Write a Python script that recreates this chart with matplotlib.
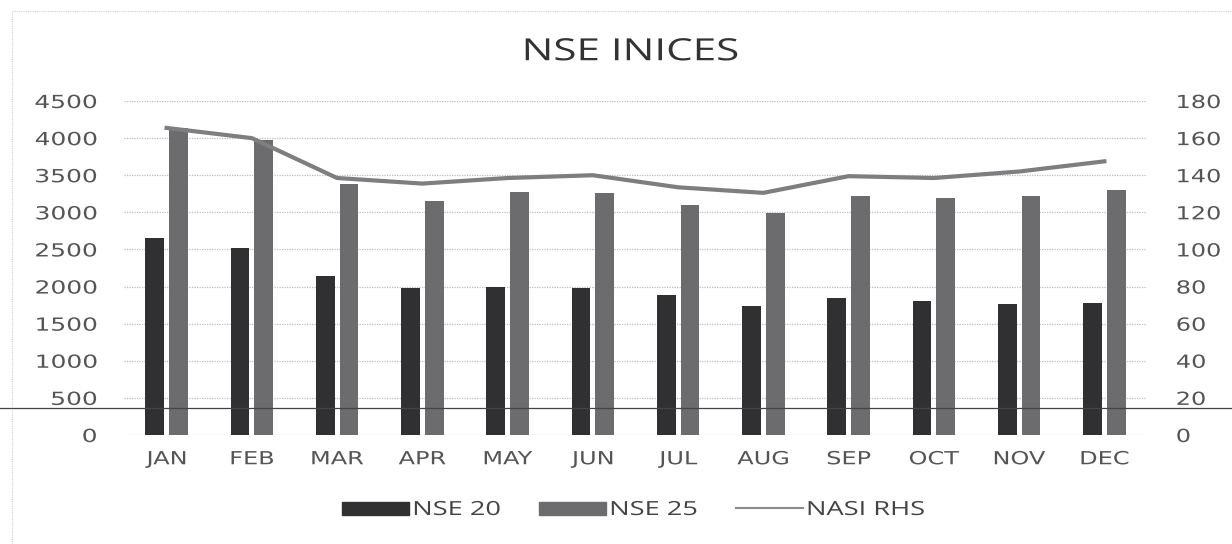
import numpy as np
import matplotlib
matplotlib.use('Agg')
from matplotlib import pyplot as plt
from matplotlib.lines import Line2D
from matplotlib.patches import Rectangle
from matplotlib.patheffects import AbstractPathEffect
from matplotlib.transforms import Affine2D

months = ['JAN', 'FEB', 'MAR', 'APR', 'MAY', 'JUN', 'JUL', 'AUG', 'SEP', 'OCT', 'NOV', 'DEC']
nse20 = [2650, 2520, 2140, 1980, 1990, 1980, 1890, 1740, 1840, 1810, 1760, 1785]
nse25 = [4140, 3975, 3385, 3150, 3275, 3260, 3100, 2990, 3220, 3195, 3220, 3300]
nasi = [165.5, 160, 138.5, 135.5, 138.5, 140, 133.5, 130.5, 139.5, 138.5, 142, 147.5]

left_ticks = list(range(0, 4501, 500))
right_ticks = list(range(0, 181, 20))


# the scanned chart has its text stretched sideways, widen glyphs to match
class Stretch(AbstractPathEffect):
    def __init__(self, sx, anchor):
        super().__init__()
        self.sx = sx
        self.anchor = anchor

    def draw_path(self, renderer, gc, tpath, affine, rgbFace=None):
        ext = tpath.get_extents(affine)
        cx = {'left': ext.x0, 'center': (ext.x0 + ext.x1) / 2, 'right': ext.x1}[self.anchor]
        affine = affine + Affine2D().translate(-cx, 0).scale(self.sx, 1).translate(cx, 0)
        renderer.draw_path(gc, tpath, affine, rgbFace)


fig = plt.figure(figsize=(12.32, 5.44), dpi=100)
ax = fig.add_axes([0.1006, 0.2004, 0.8304, 0.6139])
ax2 = ax.twinx()

x = np.arange(len(months))
w = 0.22
ax.bar(x - 0.14, nse20, w, color='#303033', zorder=3)
ax.bar(x + 0.14, nse25, w, color='#6c6c6e', zorder=3)
ax2.plot(x, nasi, color='#7e7e80', lw=3, zorder=4)

ax.set_xlim(-0.5, len(months) - 0.5)
ax.set_ylim(0, 4500)
ax2.set_ylim(0, 180)
ax.set_yticks(left_ticks)
ax2.set_yticks(right_ticks)
ax.set_xticks(x)
ax.set_xticklabels(months)

ax.grid(axis='y', color='#bdbdc4', linestyle=(0, (1, 1)), lw=0.9, zorder=0)
for a in (ax, ax2):
    for s in a.spines.values():
        s.set_visible(False)
    a.tick_params(length=0, labelsize=13, labelcolor='#555555')
ax.tick_params(axis='y', pad=19.5)
ax.tick_params(axis='x', pad=11)
ax2.tick_params(axis='y', pad=21)
plt.setp(ax.get_yticklabels(), path_effects=[Stretch(1.38, 'right')])
plt.setp(ax2.get_yticklabels(), path_effects=[Stretch(1.33, 'left')])
plt.setp(ax.get_xticklabels(), path_effects=[Stretch(1.33, 'center')])

fig.text(0.512, 0.904, 'NSE INICES', ha='center', va='center',
         fontsize=22, family='Open Sans', color='#333333',
         path_effects=[Stretch(1.38, 'center')])

handles = [Rectangle((0, 0), 1, 1, color='#303033'),
           Rectangle((0, 0), 1, 1, color='#6c6c6e'),
           Line2D([0], [0], color='#8a8a8c', lw=1.5)]
leg = fig.legend(handles, ['NSE 20', 'NSE 25', 'NASI RHS'], loc='center left',
                 bbox_to_anchor=(342 / 1232, 0.0625), ncol=3, frameon=False,
                 handlelength=3.45, handleheight=0.65, handletextpad=0.2,
                 columnspacing=3.2, borderpad=0, borderaxespad=0,
                 labelcolor='#444444', prop={'family': 'Open Sans', 'size': 14})
plt.setp(leg.get_texts(), path_effects=[Stretch(1.4, 'left')])

# faint scan border and the stray scan line across the page
fig.add_artist(Line2D([0.01, 0.01], [0, 0.98], transform=fig.transFigure,
                      color='#cfcfd6', lw=0.8, ls=(0, (1, 1))))
fig.add_artist(Line2D([0.01, 1], [0.98, 0.98], transform=fig.transFigure,
                      color='#cfcfd6', lw=0.8, ls=(0, (1, 1))))
fig.add_artist(Line2D([0, 1], [1 - 408 / 544, 1 - 408 / 544], transform=fig.transFigure,
                      color='#444444', lw=0.9))

fig.savefig('out.png', dpi=100)
